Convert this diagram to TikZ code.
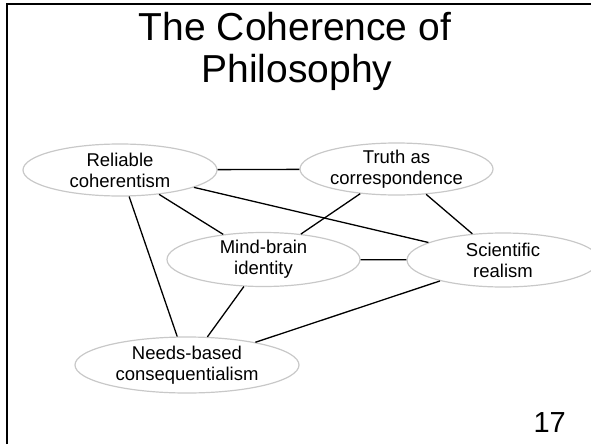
\documentclass[tikz,border=0pt]{standalone}
\usepackage{fontspec}
\setmainfont{Liberation Sans}
\usetikzlibrary{shapes.geometric}
\definecolor{ellgray}{RGB}{200,200,200}
\begin{document}
\begin{tikzpicture}[x=1pt,y=-1pt,
  idea/.style={ellipse, draw=ellgray, line width=1.2pt, inner sep=0pt},
  link/.style={draw=black, line width=1.3pt},
  lab/.style={font=\fontsize{18.5}{21}\selectfont, align=center, inner sep=0pt},
  ttl/.style={font=\fontsize{39}{41}\selectfont, inner sep=0pt, anchor=base},
]
\useasboundingbox (0,0) rectangle (591,444);
% frame
\draw[line width=2.6pt] (7,444) -- (7,4) -- (591,4);
% title
\node[ttl] (title1) at (295,40.7) {The Coherence of};
\node[ttl] (title2) at (297,82) {Philosophy};
\node[font=\fontsize{29}{32}\selectfont, inner sep=0pt, anchor=base east] (page) at (566,432) {17};
% ideas
\node[idea, minimum width=194pt, minimum height=52pt, label={[lab]center:Reliable\\coherentism}] (R) at (120,170) {};
\node[idea, minimum width=193pt, minimum height=52pt, label={[lab]center:Truth as\\correspondence}] (T) at (396.5,169) {};
\node[idea, minimum width=193pt, minimum height=54pt, label={[lab]center:Mind-brain\\identity}] (M) at (263.5,259.5) {};
\node[idea, minimum width=192pt, minimum height=54pt, label={[lab]center:Scientific\\realism}] (S) at (503,260) {};
\node[idea, minimum width=224pt, minimum height=56pt, label={[lab]center:Needs-based\\consequentialism}] (N) at (187,365) {};
% links
\draw[link] (R) -- (T);
\draw[link] (R) -- (M);
\draw[link] (R) -- (S);
\draw[link] (R) -- (N);
\draw[link] (T) -- (M);
\draw[link] (T) -- (S);
\draw[link] (M) -- (S);
\draw[link] (M) -- (N);
\draw[link] (S) -- (N);
\end{tikzpicture}
\end{document}
